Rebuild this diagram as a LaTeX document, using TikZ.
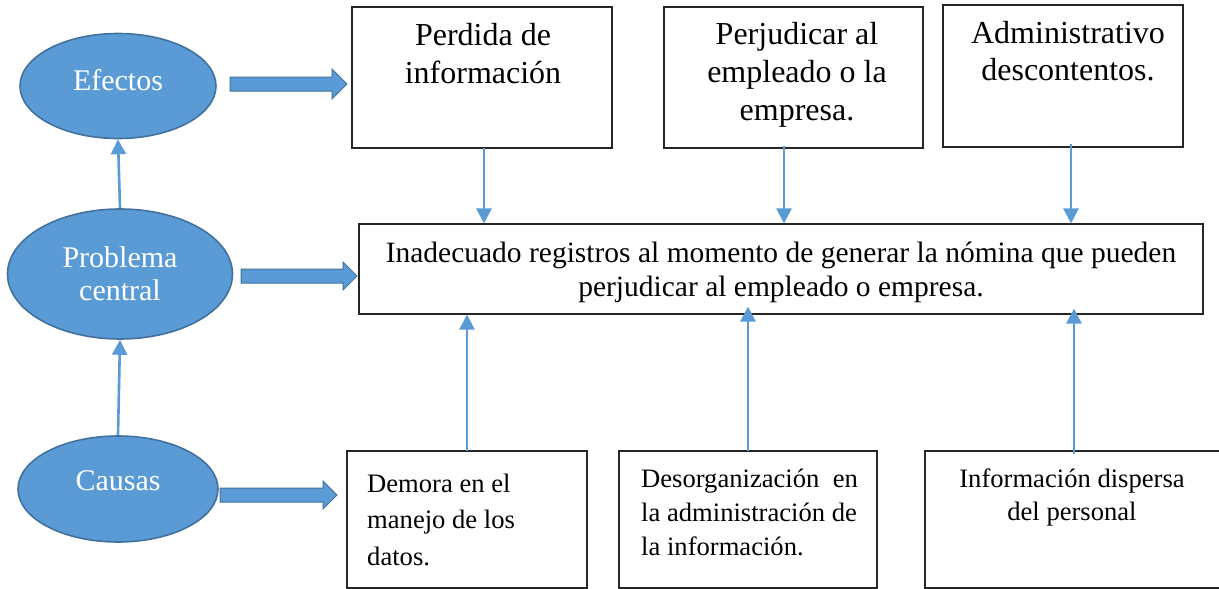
\documentclass[tikz,border=0pt]{standalone}
\usepackage{fontspec}
\setmainfont{Liberation Serif}
\usetikzlibrary{arrows.meta,shapes.geometric}
\definecolor{bfill}{HTML}{5B9BD5}
\definecolor{bline}{HTML}{41719C}
\begin{document}
\begin{tikzpicture}[x=1pt,y=-1pt,
  oval/.style={ellipse,draw=bline,line width=1.6pt,fill=bfill,inner sep=0pt},
  ovaltext/.style={text=white,inner sep=0pt,align=center,font=\fontsize{30}{33}\selectfont},
  boxx/.style={draw=black!85,line width=1.1pt,inner sep=0pt},
  toptext/.style={inner sep=0pt,align=center,font=\fontsize{32}{38}\selectfont},
  cenText/.style={inner sep=0pt,align=center,font=\fontsize{29.5}{34}\selectfont},
  bottext/.style={inner sep=0pt,font=\fontsize{26.6}{36.5}\selectfont},
  arr/.style={draw=bfill,line width=2.6pt,-{Triangle[width=15pt,length=15pt]}},
  blockarr/.style={fill=bfill,draw=bline,line width=1pt}]
\useasboundingbox (0,0) rectangle (1219,589);
% ellipses
\node[oval,minimum width=196pt,minimum height=105pt] (efe) at (118,86) {};
\node[oval,minimum width=225pt,minimum height=130pt] (pro) at (120,274) {};
\node[oval,minimum width=200pt,minimum height=106pt] (cau) at (118,489) {};
\node[ovaltext,anchor=base] (efeT) at (118,90) {Efectos};
\node[ovaltext,anchor=base] (proT) at (120,300) {Problema\\central};
\node[ovaltext,anchor=base] (cauT) at (118,490) {Causas};
% boxes
\node[boxx,minimum width=260pt,minimum height=141pt] (b1) at (482,77.5) {};
\node[boxx,minimum width=259pt,minimum height=141pt] (b2) at (793.5,77.5) {};
\node[boxx,minimum width=240pt,minimum height=142pt] (b3) at (1063,76) {};
\node[boxx,minimum width=844pt,minimum height=90pt] (cen) at (781,269) {};
\node[boxx,minimum width=240pt,minimum height=137pt] (c1) at (467,519.5) {};
\node[boxx,minimum width=258pt,minimum height=137pt] (c2) at (748,519.5) {};
\node[boxx,minimum width=298pt,minimum height=137pt] (c3) at (1074,519.5) {};
% texts (anchor = baseline of last line)
\node[toptext,anchor=base] (t1) at (483,83) {Perdida de\\información};
\node[toptext,anchor=base] (t2) at (797,120) {Perjudicar al\\empleado o la\\empresa.};
\node[toptext,anchor=base,font=\fontsize{32}{37}\selectfont] (t3) at (1068,80) {Administrativo\\descontentos.};
\node[cenText,anchor=base] (ct) at (781,296) {Inadecuado registros al momento de generar la nómina que pueden\\perjudicar al empleado o empresa.};
\node[bottext,anchor=base west,align=left] (d1) at (367,565) {Demora en el\\manejo de los\\datos.};
\node[bottext,anchor=base west,align=left,font=\fontsize{26.6}{34}\selectfont] (d2) at (641,555) {Desorganización~ en\\la administración de\\la información.};
\node[bottext,anchor=base,align=center,font=\fontsize{26.6}{33}\selectfont] (d3) at (1072,520) {Información dispersa\\del personal};
% vertical arrows between ellipses
\draw[arr] (pro.north) -- (efe.south);
\draw[arr] (cau.north) -- (pro.south);
% down arrows
\coordinate (x1) at (484,0);
\coordinate (x2) at (784,0);
\coordinate (x3) at (1071,0);
\draw[arr] ([yshift=1pt]b1.south -| x1) -- (cen.north -| x1);
\draw[arr] ([yshift=3pt]b2.south -| x2) -- (cen.north -| x2);
\draw[arr] ([yshift=4pt]b3.south -| x3) -- (cen.north -| x3);
% up arrows
\coordinate (y1) at (467,0);
\coordinate (y2) at (748,0);
\coordinate (y3) at (1074,0);
\draw[arr] ([yshift=-1pt]c1.north -| y1) -- (cen.south -| y1);
\draw[arr,shorten >=-8pt] ([yshift=-1pt]c2.north -| y2) -- (cen.south -| y2);
\draw[arr,shorten >=-6pt] ([yshift=-4pt]c3.north -| y3) -- (cen.south -| y3);
% block arrows
\draw[blockarr] (230,77) -- (332,77) -- (332,69) -- (347,84) -- (332,99) -- (332,91) -- (230,91) -- cycle;
\draw[blockarr] (241,269) -- (343,269) -- (343,262) -- (357,276) -- (343,290) -- (343,283) -- (241,283) -- cycle;
\draw[blockarr] (220,488) -- (323,488) -- (323,481) -- (337,495) -- (323,509) -- (323,502) -- (220,502) -- cycle;
\end{tikzpicture}
\end{document}
